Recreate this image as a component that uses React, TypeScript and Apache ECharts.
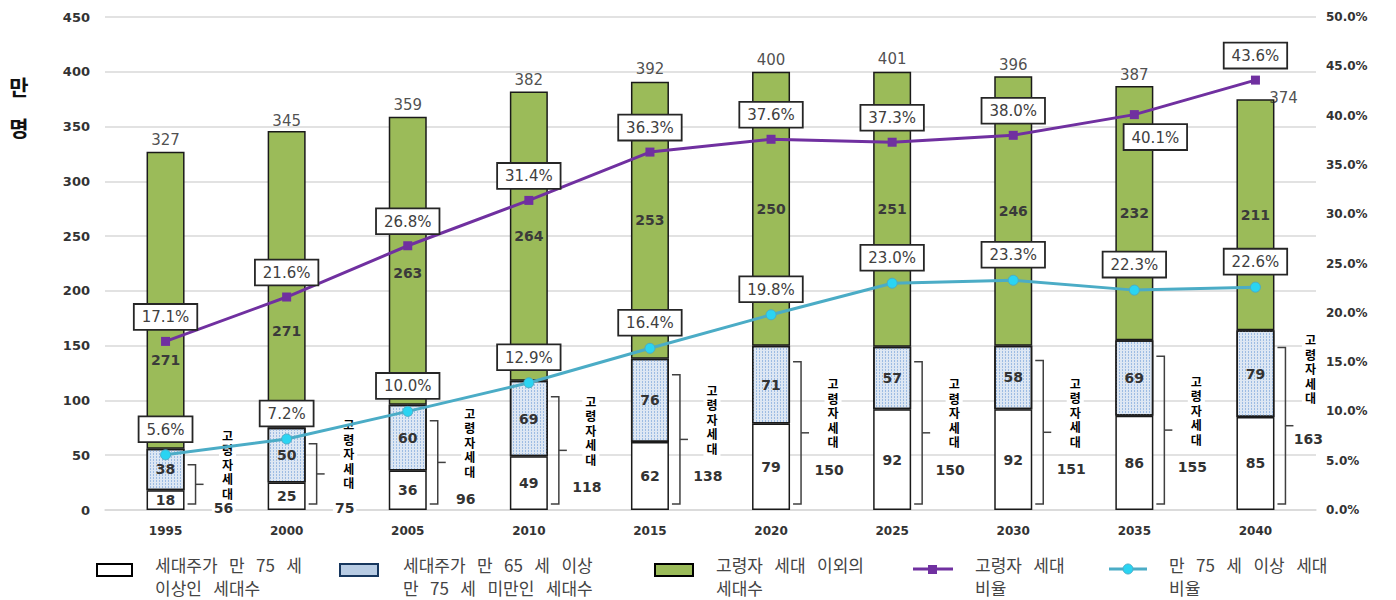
import React, { useEffect, useRef } from 'react';
import * as echarts from 'echarts';

const years = ['1995', '2000', '2005', '2010', '2015', '2020', '2025', '2030', '2035', '2040'];
const over75Households = [18, 25, 36, 49, 62, 79, 92, 92, 86, 85];
const age65to75Households = [38, 50, 60, 69, 76, 71, 57, 58, 69, 79];
const nonElderlyHouseholds = [271, 271, 263, 264, 253, 250, 251, 246, 232, 211];
const totalHouseholds = [327, 345, 359, 382, 392, 400, 401, 396, 387, 374];
const elderlyHouseholds = [56, 75, 96, 118, 138, 150, 150, 151, 155, 163];
const elderlyRatio = [17.1, 21.6, 26.8, 31.4, 36.3, 37.6, 37.3, 38.0, 40.1, 43.6];
const over75Ratio = [5.6, 7.2, 10.0, 12.9, 16.4, 19.8, 23.0, 23.3, 22.3, 22.6];
const bracketLabel = '고령자세대';
const yAxisTitle = ['만', '명'];
const legendLabels = [
  '세대주가 만 75 세\n이상인 세대수',
  '세대주가 만 65 세 이상\n만 75 세 미만인 세대수',
  '고령자 세대 이외의\n세대수',
  '고령자 세대\n비율',
  '만 75 세 이상 세대\n비율',
];

const NUM_FONT = '"DejaVu Sans", Verdana, sans-serif';
const KR_FONT = '"Noto Sans CJK KR", "Noto Sans", sans-serif';
// widen word gaps (SVG collapses repeated plain spaces)
const wide = (s: string) => s.replace(/ /g, ' \u00A0\u00A0');

export default function App() {
  const ref = useRef<HTMLDivElement>(null);

  useEffect(() => {
    if (!ref.current) return;
    const chart = echarts.init(ref.current, null, { renderer: 'svg' });

    const pctLabel = {
      show: true,
      position: 'top',
      distance: 8,
      formatter: (p: any) => Number(p.value).toFixed(1) + '%',
      backgroundColor: '#fff',
      borderColor: '#262626',
      borderWidth: 1.8,
      padding: [5, 7, 4, 7],
      fontSize: 15,
      fontFamily: NUM_FONT,
      color: '#404040',
    };

    const greenOffsets: Record<number, number> = { 0: 60, 1: 52, 2: 12 };
    const n = years.length;

    const option: any = {
      animation: false,
      backgroundColor: '#fff',
      grid: { left: 105, right: 80, top: 17, bottom: 90 },
      xAxis: {
        type: 'category',
        data: years,
        axisTick: { show: false },
        axisLine: { lineStyle: { color: '#D9D9D9', width: 1.5 } },
        axisLabel: { margin: 15, fontWeight: 'bold', fontSize: 12, fontFamily: NUM_FONT, color: '#333' },
      },
      yAxis: [
        {
          type: 'value',
          min: 0,
          max: 450,
          interval: 50,
          axisLine: { show: false },
          axisTick: { show: false },
          splitLine: { lineStyle: { color: '#D9D9D9', width: 1.5 } },
          axisLabel: { margin: 15, fontWeight: 'bold', fontSize: 13, fontFamily: NUM_FONT, color: '#333' },
        },
        {
          type: 'value',
          min: 0,
          max: 50,
          interval: 5,
          axisLine: { show: false },
          axisTick: { show: false },
          splitLine: { show: false },
          axisLabel: {
            margin: 10,
            fontWeight: 'bold',
            fontSize: 12,
            fontFamily: NUM_FONT,
            color: '#333',
            formatter: (v: number) => v.toFixed(1) + '%',
          },
        },
      ],
      series: [
        {
          type: 'bar',
          name: legendLabels[0],
          stack: 'hh',
          barWidth: 38,
          data: over75Households,
          itemStyle: { color: '#fff', borderColor: '#1a1a1a', borderWidth: 1.5 },
          label: { show: true, position: 'inside', fontSize: 14, fontWeight: 'bold', fontFamily: NUM_FONT, color: '#333' },
        },
        {
          type: 'bar',
          name: legendLabels[1],
          stack: 'hh',
          barWidth: 38,
          data: age65to75Households,
          itemStyle: {
            color: '#DDE7F3',
            borderColor: '#1a1a1a',
            borderWidth: 1.5,
            decal: {
              symbol: 'rect',
              symbolSize: 1,
              color: '#9DBCE3',
              dashArrayX: [1, 2],
              dashArrayY: [2, 1],
              rotation: 0,
            },
          },
          label: { show: true, position: 'inside', fontSize: 14, fontWeight: 'bold', fontFamily: NUM_FONT, color: '#333' },
        },
        {
          type: 'bar',
          name: legendLabels[2],
          stack: 'hh',
          barWidth: 38,
          data: nonElderlyHouseholds.map((v, i) =>
            greenOffsets[i] !== undefined ? { value: v, label: { offset: [0, greenOffsets[i]] } } : v
          ),
          itemStyle: { color: '#9BBB59', borderColor: '#1a1a1a', borderWidth: 1.5 },
          label: { show: true, position: 'inside', fontSize: 14, fontWeight: 'bold', fontFamily: NUM_FONT, color: '#3a3a3a' },
        },
        {
          type: 'scatter',
          name: 'total',
          symbolSize: 0,
          data: totalHouseholds.map((v, i) =>
            i === n - 1 ? { value: v, label: { offset: [28, 9] } } : v
          ),
          label: {
            show: true,
            position: 'top',
            distance: 4,
            fontSize: 15,
            fontFamily: NUM_FONT,
            color: '#222',
            formatter: '{c}',
          },
          z: 5,
        },
        {
          type: 'custom',
          name: 'bracket',
          data: elderlyHouseholds.map((v, i) => [i, v]),
          z: 4,
          renderItem: (params: any, api: any) => {
            const idx = params.dataIndex;
            const total = api.value(1);
            const base = api.coord([api.value(0), 0]);
            const topPt = api.coord([api.value(0), total]);
            const cx = base[0];
            const isLast = idx === n - 1;
            const top = topPt[1] + 16;
            const bottom = base[1] - 6;
            const mid = (top + bottom) / 2;
            const bx = cx + 22;
            const bx2 = cx + 30;
            const textY = isLast ? mid - 57 : mid - 20;
            const textX = isLast ? cx + 55 : cx + 62;
            const numY = isLast ? mid + 13 : Math.min(mid + 37, base[1] - 2);
            const numX = isLast ? cx + 53 : cx + 58;
            return {
              type: 'group',
              children: [
                {
                  type: 'polyline',
                  shape: { points: [[bx, top], [bx2, top], [bx2, bottom], [bx, bottom]] },
                  style: { stroke: '#404040', lineWidth: 1.5, fill: null },
                },
                {
                  type: 'line',
                  shape: { x1: bx2, y1: mid, x2: bx2 + 8, y2: mid },
                  style: { stroke: '#404040', lineWidth: 1.5 },
                },
                {
                  type: 'text',
                  style: {
                    text: bracketLabel.split('').join('\n'),
                    x: textX,
                    y: textY,
                    align: 'center',
                    verticalAlign: 'middle',
                    font: 'bold 12px ' + KR_FONT,
                    lineHeight: 14.5,
                    fill: '#000',
                    backgroundColor: '#fff',
                    padding: [2, 3],
                  },
                },
                {
                  type: 'text',
                  style: {
                    text: String(total),
                    x: numX,
                    y: numY,
                    align: 'center',
                    verticalAlign: 'middle',
                    font: 'bold 14px ' + NUM_FONT,
                    fill: '#333',
                    backgroundColor: '#fff',
                    padding: [1, 2],
                  },
                },
              ],
            };
          },
        },
        {
          type: 'line',
          name: legendLabels[3],
          yAxisIndex: 1,
          data: elderlyRatio.map((v, i) =>
            i === n - 2
              ? { value: v, label: { position: 'bottom', distance: 6, offset: [21, 0] } }
              : v
          ),
          symbol: 'rect',
          symbolSize: 9,
          lineStyle: { color: '#7030A0', width: 3 },
          itemStyle: { color: '#7030A0' },
          label: pctLabel,
          z: 6,
        },
        {
          type: 'line',
          name: legendLabels[4],
          yAxisIndex: 1,
          data: over75Ratio,
          symbol: 'circle',
          symbolSize: 10,
          lineStyle: { color: '#4BACC6', width: 3 },
          itemStyle: { color: '#2AD4F2', borderColor: '#4BACC6', borderWidth: 1 },
          label: pctLabel,
          z: 6,
        },
      ],
      graphic: [
        {
          type: 'text',
          x: 19,
          y: 86,
          style: { text: yAxisTitle[0], font: 'bold 21px ' + KR_FONT, fill: '#111', align: 'center', verticalAlign: 'middle' },
        },
        {
          type: 'text',
          x: 19,
          y: 127,
          style: { text: yAxisTitle[1], font: 'bold 21px ' + KR_FONT, fill: '#111', align: 'center', verticalAlign: 'middle' },
        },
        { type: 'rect', shape: { x: 97, y: 564, width: 35, height: 12 }, style: { fill: '#fff', stroke: '#000', lineWidth: 2 } },
        { type: 'rect', shape: { x: 340, y: 564, width: 38, height: 12 }, style: { fill: '#B8CCE4', stroke: '#17375E', lineWidth: 2 } },
        { type: 'rect', shape: { x: 655, y: 564, width: 38, height: 12 }, style: { fill: '#9BBB59', stroke: '#000', lineWidth: 2 } },
        { type: 'line', shape: { x1: 913, y1: 569, x2: 953, y2: 569 }, style: { stroke: '#7030A0', lineWidth: 3 } },
        { type: 'rect', shape: { x: 928, y: 565, width: 9, height: 9 }, style: { fill: '#7030A0' } },
        { type: 'line', shape: { x1: 1109, y1: 569, x2: 1147, y2: 569 }, style: { stroke: '#4BACC6', lineWidth: 3 } },
        { type: 'circle', shape: { cx: 1128, cy: 569, r: 5 }, style: { fill: '#2AD4F2', stroke: '#4BACC6', lineWidth: 1 } },
        ...[155, 403, 716, 975, 1169].map((x, i) => ({
          type: 'text',
          x,
          y: 553,
          style: {
            text: wide(legendLabels[i]),
            font: '17px ' + KR_FONT,
            fill: '#444',
            lineHeight: 23,
            verticalAlign: 'top',
            align: 'left',
          },
        })),
      ],
    };

    chart.setOption(option);
    return () => chart.dispose();
  }, []);

  return (
    <div
      ref={ref}
      style={{ position: 'fixed', left: 0, top: 0, width: 1396, height: 600, background: '#fff' }}
    />
  );
}
